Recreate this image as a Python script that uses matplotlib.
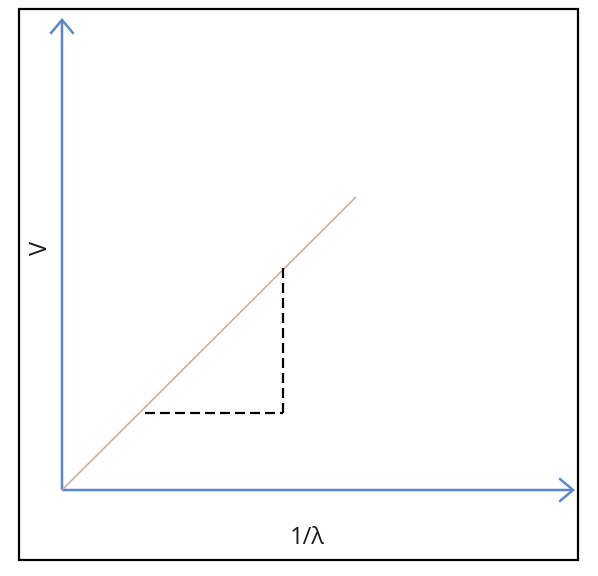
import matplotlib
matplotlib.use("Agg")
import matplotlib.pyplot as plt
from matplotlib.patches import Rectangle, FancyArrowPatch, ArrowStyle

# ---- data (in diagram units; origin at axes crossing) ----
line_x = [0.0, 1.0]
line_y = [0.0, 1.0]
dash_h_x = [0.282, 0.752]
dash_h_y = [0.263, 0.263]
dash_v_x = [0.752, 0.752]
dash_v_y = [0.263, 0.758]
yaxis_end = (0.0, 1.611)
xaxis_end = (1.745, 0.0)
ylabel_text = "V"
xlabel_text = "1/λ"

W, H = 598, 576
fig = plt.figure(figsize=(W / 100, H / 100), dpi=100)
ax = fig.add_axes([0, 0, 1, 1])
ax.set_xlim(-62 / 294, (W - 62) / 294)
ax.set_ylim(-86 / 293, (H - 86) / 293)
ax.axis("off")

# outer frame
fig.patches.append(Rectangle((19 / W, 1 - 560 / H), (578 - 19) / W, (560 - 9) / H,
                             transform=fig.transFigure, fill=False,
                             edgecolor="black", linewidth=1.6))

blue = "#5B86C9"
style = ArrowStyle("->", head_length=0.5, head_width=0.42)
for end in (yaxis_end, xaxis_end):
    ax.add_patch(FancyArrowPatch((0, 0), end, arrowstyle=style, mutation_scale=20,
                                 color=blue, linewidth=1.8, shrinkA=0, shrinkB=0,
                                 joinstyle="miter", capstyle="butt"))

ax.plot(line_x, line_y, color="#D9A0A0", linewidth=1.1, solid_capstyle="butt")
ax.plot(dash_h_x, dash_h_y, color="black", linewidth=1.6, linestyle=(0, (4.5, 2.25)))
ax.plot(dash_v_x, dash_v_y, color="black", linewidth=1.6, linestyle=(0, (4.5, 2.25)))

ax.text(-0.072, 0.826, ylabel_text, rotation=90, ha="center", va="center",
        fontsize=17, color="#1a1a1a", family="Open Sans")
ax.text(0.833, -0.164, xlabel_text, ha="center", va="center",
        fontsize=17, color="#1a1a1a", family="Open Sans")

fig.savefig("out.png", dpi=100)
